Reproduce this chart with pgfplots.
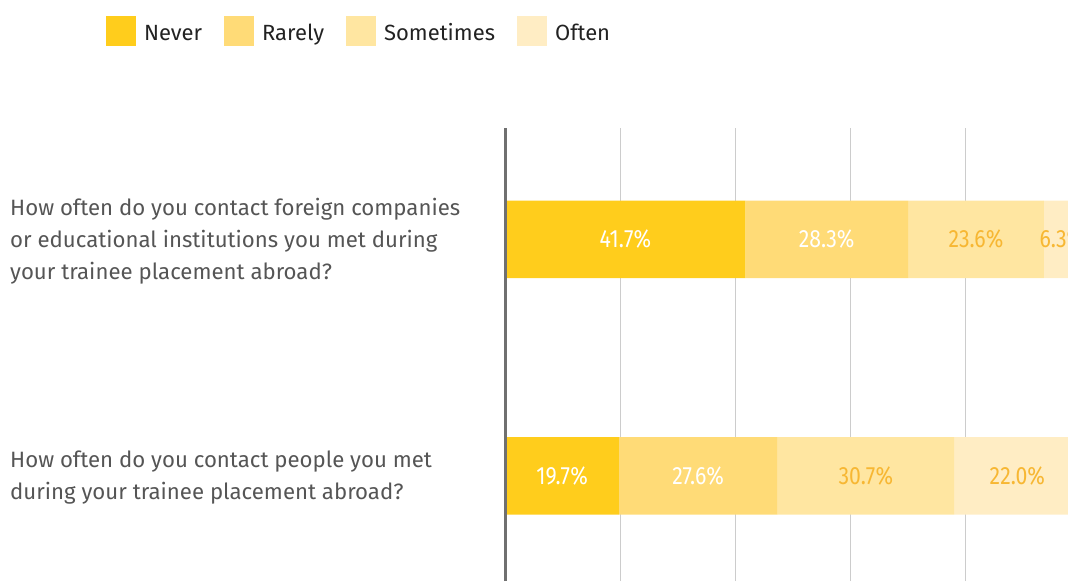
\documentclass[border=0pt]{standalone}
\usepackage{pgfplots}
\pgfplotsset{compat=1.18}
\usepackage{fontspec}
\setmainfont{Fira Sans}
\newfontfamily\numfont[FakeStretch=0.85]{Fira Sans}
\definecolor{cNever}{HTML}{FFCD1C}
\definecolor{cRarely}{HTML}{FFDB77}
\definecolor{cSome}{HTML}{FFE6A1}
\definecolor{cOften}{HTML}{FFEDC4}
\definecolor{lblo}{HTML}{F7B733}
\definecolor{axgray}{HTML}{707070}
\definecolor{gridc}{HTML}{CCCCCC}
\definecolor{cattext}{HTML}{555555}
\definecolor{legtext}{HTML}{222222}
\pgfplotsset{sqlegend/.style={legend image code/.code={\fill[##1] (0pt,-15pt) rectangle (30pt,15pt);}}}
\begin{document}
\begin{tikzpicture}
\path[use as bounding box] (0pt,0pt) rectangle (1068pt,581pt);
\begin{axis}[
  at={(505.5pt,0pt)}, anchor=south west,
  scale only axis, width=562.5pt, height=453pt,
  xbar stacked, bar width=77.5pt,
  xmin=0, xmax=97.8,
  ymin=-0.444, ymax=1.4714,
  axis lines*=left,
  x axis line style={draw=none},
  y axis line style={draw=none},
  xtick={20,40,60,80}, xticklabels={},
  xmajorgrids, grid style={draw=gridc, line width=1.5pt},
  major tick length=0pt,
  ytick={0,1},
  yticklabels={{How often do you contact people you met\\during your trainee placement abroad?},{How often do you contact foreign companies\\or educational institutions you met during\\your trainee placement abroad?}},
  yticklabel style={anchor=west, align=left, xshift=-495.5pt, yshift=-2pt, inner sep=0pt, font=\fontsize{22.2}{32}\selectfont, text=cattext},
  legend columns=4,
  legend style={at={(-0.7102,1.2468)}, anchor=north west, draw=none, fill=none,
    inner sep=0pt, outer sep=0pt, font=\fontsize{22}{26}\selectfont, text=legtext,
    nodes={inner sep=0pt, text height=19pt, text depth=0pt},
    /tikz/every odd column/.style={column sep=8pt},
    /tikz/every even column/.style={column sep=22pt}},
]
\addplot[fill=cNever, draw=none, sqlegend] coordinates {(41.7,1) (19.7,0)};
\addplot[fill=cRarely, draw=none, sqlegend] coordinates {(28.3,1) (27.6,0)};
\addplot[fill=cSome, draw=none, sqlegend] coordinates {(23.6,1) (30.7,0)};
\addplot[fill=cOften, draw=none, sqlegend] coordinates {(6.3,1) (22.0,0)};
\legend{Never, Rarely, Sometimes, Often}
\end{axis}
\begin{axis}[
  at={(505.5pt,0pt)}, anchor=south west,
  scale only axis, width=562.5pt, height=453pt,
  xmin=0, xmax=97.8, ymin=-0.444, ymax=1.4714,
  axis lines*=left,
  x axis line style={draw=none},
  y axis line style={draw=axgray, line width=2.2pt},
  xtick=\empty, ytick=\empty,
  clip=false,
  point meta=explicit,
  nodes near coords={\pgfmathprintnumber[fixed,fixed zerofill,precision=1,assume math mode=true]{\pgfplotspointmeta}\%},
  nodes near coords style={anchor=center, font=\numfont\fontsize{25}{30}\selectfont},
]
\addplot[draw=none, mark=none, nodes near coords style={text=white}] table[x=x, y=y, meta=v] {
x y v
20.85 1 41.7
55.85 1 28.3
9.85 0 19.7
33.5 0 27.6
};
\addplot[draw=none, mark=none, nodes near coords style={text=lblo}] table[x=x, y=y, meta=v] {
x y v
81.8 1 23.6
96.75 1 6.3
62.65 0 30.7
89.0 0 22.0
};
\end{axis}
\end{tikzpicture}
\end{document}
